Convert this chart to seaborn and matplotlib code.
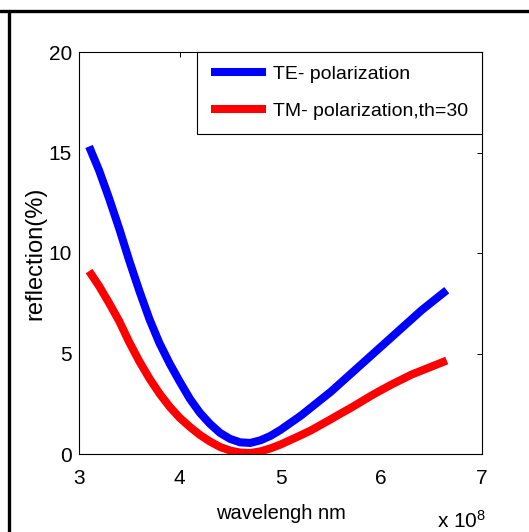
import matplotlib
matplotlib.use("Agg")
import matplotlib.pyplot as plt
from matplotlib.lines import Line2D
import seaborn as sns
import pandas as pd

# wavelength in units of 1e8 (axis shows "x 10^8")
te_wavelength = [3.10, 3.20, 3.30, 3.40, 3.50, 3.60, 3.70, 3.80, 3.90, 4.00,
                 4.10, 4.20, 4.30, 4.40, 4.50, 4.60, 4.70, 4.80, 4.90, 5.00,
                 5.10, 5.20, 5.30, 5.40, 5.50, 5.60, 5.70, 5.80, 5.90, 6.00,
                 6.10, 6.20, 6.30, 6.40, 6.50, 6.60, 6.65]
te_reflection = [15.3, 14.1, 12.7, 11.2, 9.6, 8.1, 6.7, 5.5, 4.5, 3.6,
                 2.75, 2.05, 1.5, 1.05, 0.75, 0.58, 0.55, 0.68, 0.9, 1.2,
                 1.55, 1.9, 2.3, 2.7, 3.1, 3.55, 4.0, 4.45, 4.9, 5.35,
                 5.8, 6.25, 6.7, 7.15, 7.55, 7.95, 8.15]

tm_wavelength = te_wavelength
tm_reflection = [9.1, 8.35, 7.5, 6.6, 5.55, 4.6, 3.75, 3.0, 2.35, 1.8,
                 1.35, 0.95, 0.62, 0.35, 0.17, 0.07, 0.05, 0.13, 0.28, 0.47,
                 0.7, 0.93, 1.17, 1.45, 1.73, 2.02, 2.3, 2.6, 2.9, 3.18,
                 3.45, 3.7, 3.95, 4.15, 4.35, 4.55, 4.65]

series_labels = ["TE- polarization", "TM- polarization,th=30"]
series_colors = ["#0000ff", "#ff0000"]
x_ticks = [3, 4, 5, 6, 7]
y_ticks = [0, 5, 10, 15, 20]

sns.set_theme(style="white")
plt.rcParams["font.family"] = ["Liberation Sans", "DejaVu Sans"]
plt.rcParams["mathtext.default"] = "regular"
plt.rcParams["text.color"] = "black"
plt.rcParams["axes.labelcolor"] = "black"
plt.rcParams["xtick.color"] = "black"
plt.rcParams["ytick.color"] = "black"

te = pd.DataFrame({"wavelength": te_wavelength, "reflection": te_reflection})
tm = pd.DataFrame({"wavelength": tm_wavelength, "reflection": tm_reflection})

fig = plt.figure(figsize=(5.29, 5.32), dpi=100)
ax = fig.add_axes([79 / 529, 1 - 454 / 532, 403 / 529, 402 / 532])

for df, lab, col in zip([te, tm], series_labels, series_colors):
    sns.lineplot(data=df, x="wavelength", y="reflection", ax=ax, color=col,
                 label=lab, linewidth=5.8, solid_capstyle="butt",
                 solid_joinstyle="round", sort=False)

ax.set_xlim(3, 7)
ax.set_ylim(0, 20)
ax.set_xticks(x_ticks)
ax.set_yticks(y_ticks)
ax.set_xticklabels([str(t) for t in x_ticks], fontsize=15)
ax.set_yticklabels([str(t) for t in y_ticks], fontsize=15)
ax.tick_params(direction="in", top=True, right=True, length=3.6, width=0.7)
ax.tick_params(axis="x", pad=10.5)
ax.tick_params(axis="y", pad=5)
for sp in ax.spines.values():
    sp.set_color("black")
    sp.set_linewidth(0.8)

ax.set_xlabel("wavelengh nm", fontsize=14.5, labelpad=12)
ax.set_ylabel("reflection(%)", fontsize=17, labelpad=2)

ax.text(0.888, -0.184, "x 10$^{8}$", transform=ax.transAxes, fontsize=15,
        ha="left", va="baseline")

leg = ax.legend(loc="upper right", bbox_to_anchor=(1, 1), borderaxespad=0,
                fancybox=False, framealpha=1, edgecolor="black", fontsize=14,
                handlelength=2.85, handletextpad=0.36, labelspacing=1.0,
                borderpad=0.7)
leg.get_frame().set_linewidth(0.8)

# outer frame lines (top and left)
fig.add_artist(Line2D([0, 1], [1 - 11 / 532, 1 - 11 / 532], color="black", lw=2.4))
fig.add_artist(Line2D([9 / 529, 9 / 529], [0, 1 - 11 / 532], color="black", lw=2.4))

fig.savefig("out.png", dpi=100)
